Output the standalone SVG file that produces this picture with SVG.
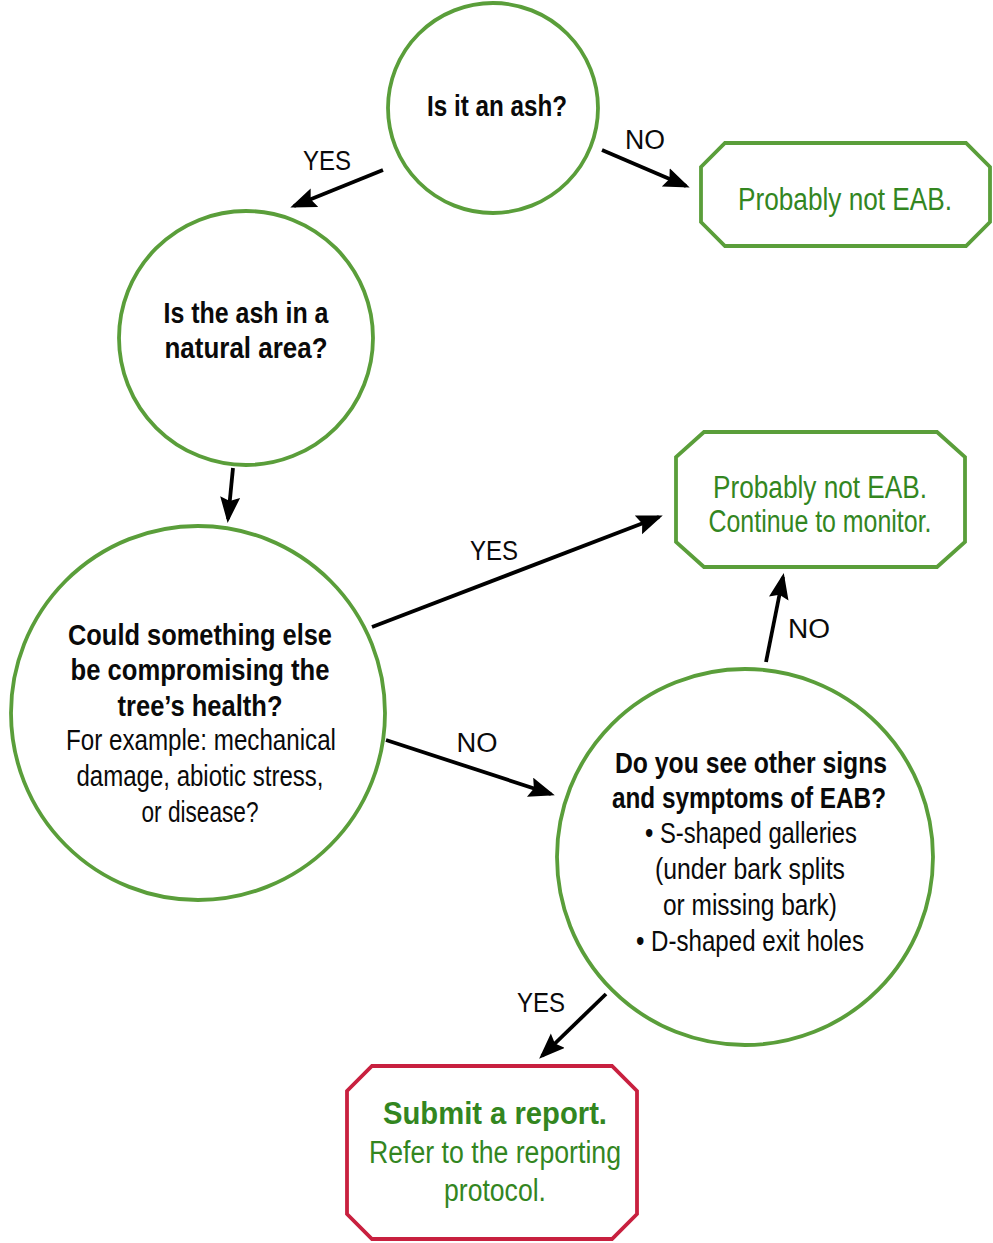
<svg xmlns="http://www.w3.org/2000/svg" width="993" height="1243" viewBox="0 0 993 1243">
<style>
.c{fill:#fff;stroke:#5a9e3a;stroke-width:3.8}
.o{fill:#fff;stroke:#5a9e3a;stroke-width:3.8}
.r{fill:#fff;stroke:#c8203f;stroke-width:3.8}
text{font-family:"Liberation Sans",Arial,sans-serif;text-anchor:middle}
.b{font-weight:bold;font-size:29px;fill:#0a0a0a}
.n{font-size:29px;fill:#0a0a0a}
.g{font-size:31px;fill:#33861f}
.gb{font-size:31px;fill:#33861f;font-weight:bold}
.l{font-size:27px;fill:#0a0a0a}
.a{stroke:#000;stroke-width:3.8;fill:none;marker-end:url(#ah)}
</style>
<defs>
<marker id="ah" markerUnits="userSpaceOnUse" markerWidth="28" markerHeight="22" refX="22" refY="10" orient="auto" viewBox="0 0 28 22">
<path d="M0,0 L26,10 L0,20 L4,10 z" fill="#000"/>
</marker>
</defs>
<g id="connectors">
<line class="a" x1="383" y1="170" x2="294" y2="206"/>
<text class="l" x="327" y="170" textLength="48" lengthAdjust="spacingAndGlyphs">YES</text>
<line class="a" x1="602" y1="150" x2="686" y2="186"/>
<text class="l" x="645" y="149" textLength="40" lengthAdjust="spacingAndGlyphs">NO</text>
<line class="a" x1="233" y1="468" x2="228" y2="519"/>
<line class="a" x1="372" y1="627" x2="659" y2="517"/>
<text class="l" x="494" y="560" textLength="48" lengthAdjust="spacingAndGlyphs">YES</text>
<line class="a" x1="386" y1="740" x2="551" y2="794"/>
<text class="l" x="477" y="752" textLength="41" lengthAdjust="spacingAndGlyphs">NO</text>
<line class="a" x1="766" y1="662" x2="783" y2="577"/>
<text class="l" x="809" y="638" textLength="42" lengthAdjust="spacingAndGlyphs">NO</text>
<line class="a" x1="606" y1="994" x2="542" y2="1056"/>
<text class="l" x="541" y="1012" textLength="48" lengthAdjust="spacingAndGlyphs">YES</text>
</g>
<g id="n1">
<circle class="c" cx="493" cy="108" r="105"/>
<text class="b" x="497" y="116" textLength="140" lengthAdjust="spacingAndGlyphs">Is it an ash?</text>
</g>
<g id="n2">
<polygon class="o" points="725,143 966,143 990,167 990,222 966,246 725,246 701,222 701,167"/>
<text class="g" x="845" y="210" textLength="214" lengthAdjust="spacingAndGlyphs">Probably not EAB.</text>
</g>
<g id="n3">
<circle class="c" cx="246" cy="338" r="127"/>
<text class="b" x="246" y="323" textLength="165" lengthAdjust="spacingAndGlyphs">Is the ash in a</text>
<text class="b" x="246" y="358" textLength="163" lengthAdjust="spacingAndGlyphs">natural area?</text>
</g>
<g id="n4">
<circle class="c" cx="198" cy="713" r="187"/>
<text class="b" x="200" y="645" textLength="264" lengthAdjust="spacingAndGlyphs">Could something else</text>
<text class="b" x="200" y="680" textLength="259" lengthAdjust="spacingAndGlyphs">be compromising the</text>
<text class="b" x="200" y="716" textLength="165" lengthAdjust="spacingAndGlyphs">tree’s health?</text>
<text class="n" x="201" y="750" textLength="270" lengthAdjust="spacingAndGlyphs">For example: mechanical</text>
<text class="n" x="200" y="786" textLength="247" lengthAdjust="spacingAndGlyphs">damage, abiotic stress,</text>
<text class="n" x="200" y="822" textLength="117" lengthAdjust="spacingAndGlyphs">or disease?</text>
</g>
<g id="n5">
<polygon class="o" points="704,432 937,432 965,457 965,542 937,567 704,567 676,542 676,457"/>
<text class="g" x="820" y="498" textLength="214" lengthAdjust="spacingAndGlyphs">Probably not EAB.</text>
<text class="g" x="820" y="532" textLength="223" lengthAdjust="spacingAndGlyphs">Continue to monitor.</text>
</g>
<g id="n6">
<circle class="c" cx="745" cy="857" r="188"/>
<text class="b" x="751" y="773" textLength="272" lengthAdjust="spacingAndGlyphs">Do you see other signs</text>
<text class="b" x="749" y="808" textLength="274" lengthAdjust="spacingAndGlyphs">and symptoms of EAB?</text>
<text class="n" x="751" y="843" textLength="212" lengthAdjust="spacingAndGlyphs">• S-shaped galleries</text>
<text class="n" x="750" y="879" textLength="190" lengthAdjust="spacingAndGlyphs">(under bark splits</text>
<text class="n" x="750" y="915" textLength="174" lengthAdjust="spacingAndGlyphs">or missing bark)</text>
<text class="n" x="750" y="951" textLength="228" lengthAdjust="spacingAndGlyphs">• D-shaped exit holes</text>
</g>
<g id="n7">
<polygon class="r" points="372,1066 612,1066 637,1091 637,1214 612,1239 372,1239 347,1214 347,1091"/>
<text class="gb" x="495" y="1124" textLength="224" lengthAdjust="spacingAndGlyphs">Submit a report.</text>
<text class="g" x="495" y="1163" textLength="252" lengthAdjust="spacingAndGlyphs">Refer to the reporting</text>
<text class="g" x="495" y="1201" textLength="102" lengthAdjust="spacingAndGlyphs">protocol.</text>
</g>
</svg>
